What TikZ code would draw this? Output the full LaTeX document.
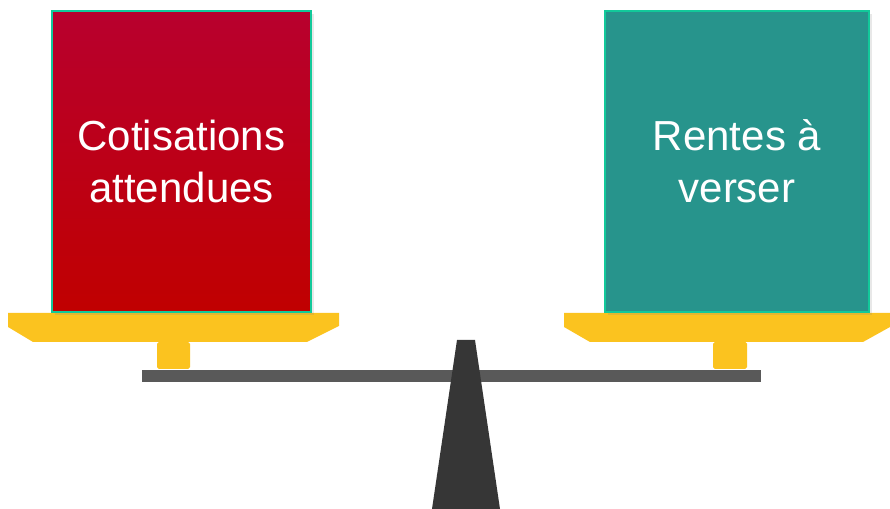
\documentclass[tikz,border=0pt]{standalone}
\usepackage{fontspec}
\setmainfont{Liberation Sans}
\usetikzlibrary{shadows}
\definecolor{cotisred}{HTML}{B8002E}
\definecolor{cotisredlow}{HTML}{C00000}
\definecolor{rentegreen}{HTML}{27948C}
\definecolor{boxedge}{HTML}{12C99A}
\definecolor{panyellow}{HTML}{FBC31F}
\definecolor{beamgrey}{HTML}{595959}
\definecolor{footgrey}{HTML}{363636}
\begin{document}
\begin{tikzpicture}[x=0.02cm,y=-0.02cm,
  weightbox/.style={draw=boxedge,line width=0.9pt,minimum width=5.18cm,minimum height=6.02cm,
    text=white,align=center,font=\fontsize{23.9}{29.6}\selectfont,
    drop shadow={opacity=0.18,shadow xshift=0.06cm,shadow yshift=-0.06cm}},
  pan/.style={fill=panyellow},
  post/.style={fill=panyellow,rounded corners=1pt}]
\useasboundingbox (0,0) rectangle (890,509);
% beam of the balance
\fill[beamgrey] (142,370) rectangle (761,382);
% posts under the pans
\fill[post] (157,342) rectangle (190,369);
\fill[post] (713,342) rectangle (747,369);
% pans
\fill[pan] (8,313) -- (339,313) -- (339,326) -- (307,342) -- (33,342) -- (8,327) -- cycle;
\fill[pan] (564,313) -- (890,313) -- (890,327) -- (863,342) -- (590,342) -- (564,327) -- cycle;
% the two loads
\node[weightbox,top color=cotisred,bottom color=cotisredlow] (cotis) at (181.5,161.5) {Cotisations\\attendues};
\node[weightbox,fill=rentegreen,minimum width=5.28cm] (rentes) at (737,161.5) {Rentes à\\verser};
% fulcrum
\fill[footgrey] (457,340) -- (475,340) -- (500,509) -- (432,509) -- cycle;
\end{tikzpicture}
\end{document}
